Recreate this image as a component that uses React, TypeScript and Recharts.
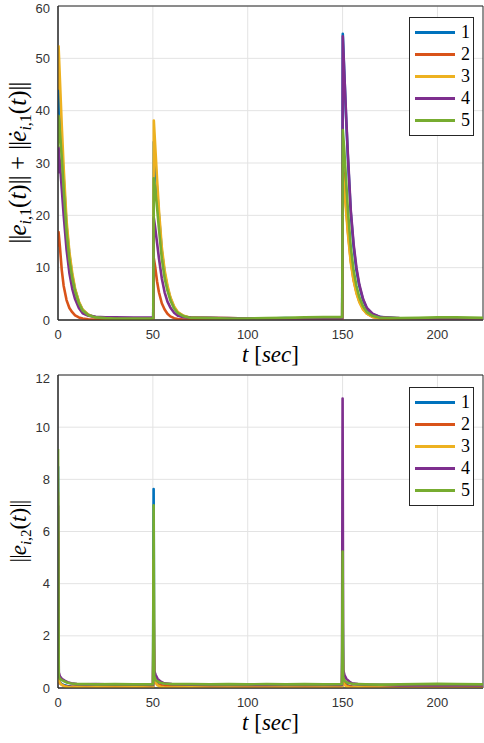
import React from 'react';
import { LineChart, Line, XAxis, YAxis, CartesianGrid, Legend, ReferenceArea } from 'recharts';

const seriesNames = ['1', '2', '3', '4', '5'];
const seriesColors = ['#0072BD', '#D95319', '#EDB120', '#7E2F8E', '#77AC30'];
const xTicks = [0, 50, 100, 150, 200];
const topYTicks = [0, 10, 20, 30, 40, 50, 60];
const bottomYTicks = [0, 2, 4, 6, 8, 10, 12];

// upper panel: ||e_i1|| + ||de_i1||
const topTime = [
  0, 0.3, 1, 2, 3, 4.5, 6, 7.5, 9, 11, 13, 16, 20, 25, 30, 40, 50.2,
  50.5, 51.2, 52.2, 53.2, 54.7, 56.2, 57.7, 59.2, 61.2, 63.2, 66.2, 70,
  80, 90, 100, 110, 120, 130, 140, 149.8,
  150.1, 150.8, 151.8, 152.8, 154.3, 155.8, 157.3, 158.8, 160.8, 162.8, 165.8, 170,
  180, 190, 200, 210, 224,
];
const top1 = [
  36, 44, 40, 33, 27, 18, 12.5, 8.5, 5.8, 3.4, 1.9, 1, 0.5, 0.35, 0.3, 0.3, 0.3,
  34, 30.5, 25, 20, 13.2, 9, 6.2, 4.2, 2.4, 1.4, 0.75, 0.4,
  0.35, 0.3, 0.3, 0.3, 0.35, 0.3, 0.3, 0.3,
  54.7, 48, 39, 31, 20.5, 14, 9.5, 6.5, 3.8, 2.2, 1.1, 0.55,
  0.3, 0.3, 0.3, 0.3, 0.3,
];
const top2 = [
  14, 16.8, 14, 9.5, 6.5, 3.8, 2.3, 1.5, 0.9, 0.5, 0.3, 0.15, 0.1, 0.1, 0.1, 0.1, 0.1,
  11.8, 10.2, 7.4, 5.3, 3.2, 2, 1.2, 0.7, 0.35, 0.2, 0.1, 0.08,
  0.1, 0.1, 0.15, 0.1, 0.1, 0.1, 0.1, 0.1,
  30, 27, 22, 17, 11.4, 7.7, 5.3, 3.6, 2.1, 1.2, 0.6, 0.3,
  0.1, 0.1, 0.1, 0.1, 0.1,
];
const top3 = [
  44, 52.3, 46, 37, 29, 19, 13, 9, 6, 3.5, 2, 1, 0.5, 0.35, 0.3, 0.3, 0.3,
  38.1, 33.5, 27, 21, 13.9, 9.5, 6.6, 4.4, 2.6, 1.5, 0.8, 0.45,
  0.4, 0.35, 0.3, 0.3, 0.3, 0.35, 0.35, 0.3,
  28, 25.5, 21, 16.5, 11, 7.5, 5.1, 3.4, 2, 1.2, 0.6, 0.35,
  0.3, 0.3, 0.3, 0.3, 0.3,
];
const top4 = [
  28, 33, 30, 25, 20, 13.5, 9, 6, 4, 2.3, 1.3, 0.8, 0.6, 0.5, 0.5, 0.45, 0.45,
  19.5, 17.7, 14.8, 11.8, 8, 5.3, 3.5, 2.4, 1.4, 0.8, 0.55, 0.45,
  0.4, 0.35, 0.3, 0.3, 0.3, 0.3, 0.3, 0.3,
  54.2, 48, 39.5, 31.5, 21, 14.5, 10, 6.8, 4, 2.3, 1.2, 0.55,
  0.35, 0.3, 0.3, 0.3, 0.3,
];
const top5 = [
  33, 39, 36, 31, 25, 17, 11.5, 8, 5.5, 3.2, 1.8, 0.9, 0.5, 0.35, 0.3, 0.3, 0.3,
  27.1, 25, 21.5, 17.4, 11.8, 8, 5.6, 3.8, 2.2, 1.3, 0.7, 0.4,
  0.35, 0.3, 0.3, 0.35, 0.4, 0.5, 0.55, 0.55,
  36.3, 33, 27, 21, 14, 9.5, 6.5, 4.4, 2.6, 1.5, 0.8, 0.4,
  0.35, 0.4, 0.5, 0.5, 0.4,
];

// lower panel: ||e_i2||
const bottomTime = [
  0, 0.4, 1, 2, 3.5, 5, 7, 10, 15, 20, 30, 40, 50.1,
  50.4, 50.7, 51.5, 52.5, 54, 56, 60, 70, 80, 90, 100, 110, 120, 130, 140, 149.7,
  150, 150.3, 151, 152, 153.5, 155, 158, 162, 170, 180, 190, 200, 210, 224,
];
const bottom1 = [
  8.5, 0.3, 0.22, 0.15, 0.1, 0.08, 0.06, 0.05, 0.05, 0.04, 0.05, 0.04, 0.05,
  7.63, 0.35, 0.25, 0.15, 0.1, 0.07, 0.05, 0.05, 0.04, 0.05, 0.05, 0.04, 0.05, 0.04, 0.05, 0.05,
  3, 0.3, 0.2, 0.12, 0.08, 0.06, 0.05, 0.05, 0.04, 0.05, 0.04, 0.05, 0.05, 0.05,
];
const bottom2 = [
  6, 0.25, 0.18, 0.12, 0.08, 0.06, 0.05, 0.06, 0.04, 0.05, 0.06, 0.05, 0.04,
  2, 0.3, 0.2, 0.14, 0.1, 0.08, 0.07, 0.06, 0.08, 0.06, 0.05, 0.07, 0.06, 0.05, 0.06, 0.05,
  2, 0.25, 0.18, 0.1, 0.07, 0.06, 0.05, 0.04, 0.05, 0.06, 0.05, 0.04, 0.05, 0.04,
];
const bottom3 = [
  7.5, 0.3, 0.2, 0.12, 0.06, 0.04, 0.02, 0.03, 0.02, 0.03, 0.02, 0.03, 0.02,
  4.9, 0.35, 0.2, 0.1, 0.05, 0.03, 0.02, 0.03, 0.02, 0.03, 0.02, 0.02, 0.03, 0.02, 0.03, 0.02,
  1.5, 0.2, 0.12, 0.06, 0.03, 0.02, 0.03, 0.02, 0.03, 0.02, 0.03, 0.02, 0.03, 0.02,
];
const bottom4 = [
  7, 0.6, 0.45, 0.35, 0.28, 0.22, 0.18, 0.15, 0.14, 0.15, 0.13, 0.14, 0.12,
  3, 0.65, 0.5, 0.35, 0.25, 0.18, 0.15, 0.13, 0.12, 0.13, 0.12, 0.12, 0.13, 0.12, 0.12, 0.12,
  11.1, 0.7, 0.5, 0.35, 0.25, 0.18, 0.15, 0.13, 0.12, 0.1, 0.1, 0.11, 0.1, 0.1,
];
const bottom5 = [
  9.16, 0.45, 0.35, 0.3, 0.25, 0.2, 0.17, 0.15, 0.15, 0.14, 0.15, 0.14, 0.14,
  7.0, 0.45, 0.3, 0.25, 0.2, 0.17, 0.15, 0.15, 0.14, 0.15, 0.14, 0.15, 0.14, 0.15, 0.14, 0.15,
  5.23, 0.4, 0.28, 0.22, 0.18, 0.16, 0.15, 0.14, 0.13, 0.14, 0.15, 0.16, 0.15, 0.14,
];

const topRows = topTime.map((t, i) => ({ t, s1: top1[i], s2: top2[i], s3: top3[i], s4: top4[i], s5: top5[i] }));
const bottomRows = bottomTime.map((t, i) => ({
  t, s1: bottom1[i], s2: bottom2[i], s3: bottom3[i], s4: bottom4[i], s5: bottom5[i],
}));

const serif = '"Liberation Serif", "DejaVu Serif", serif';
const tickStyle = { fill: '#333', fontSize: 13, fontFamily: '"Liberation Sans", Arial, sans-serif' };

const LegendBox = () => (
  <div style={{ border: '1px solid #262626', background: '#fff', width: 63, padding: '3px 0 4px 0', boxSizing: 'content-box' }}>
    {seriesNames.map((name, i) => (
      <div key={name} style={{ display: 'flex', alignItems: 'center', height: 22 }}>
        <div style={{ width: 40, height: 3, background: seriesColors[i], marginLeft: 5 }} />
        <span style={{ fontFamily: serif, fontSize: 18, marginLeft: 6, color: '#000', lineHeight: '22px' }}>{name}</span>
      </div>
    ))}
  </div>
);

const XLabel = (props: any) => {
  const vb = props.viewBox || {};
  const cx = vb.x + vb.width / 2;
  const y = vb.y + 42;
  return (
    <text x={cx} y={y} textAnchor="middle" fontFamily={serif} fontSize={23} fill="#000">
      <tspan fontStyle="italic">t</tspan>
      <tspan> [</tspan>
      <tspan fontStyle="italic">sec</tspan>
      <tspan>]</tspan>
    </text>
  );
};

// double bar drawn as two pipes, like LaTeX \|
const Bar2 = () => <tspan letterSpacing={-1}>||</tspan>;

const TopYLabel = (props: any) => {
  const vb = props.viewBox || {};
  const cx = 26;
  const cy = vb.y + vb.height / 2;
  return (
    <text transform={`translate(${cx},${cy}) rotate(-90)`} textAnchor="middle" fontFamily={serif} fontSize={25} fill="#000">
      <Bar2 />
      <tspan fontStyle="italic">e</tspan>
      <tspan fontSize={16} fontStyle="italic" dy={5}>i</tspan>
      <tspan fontSize={16}>,1</tspan>
      <tspan dy={-5}>(</tspan>
      <tspan fontStyle="italic">t</tspan>
      <tspan>)</tspan>
      <Bar2 />
      <tspan> + </tspan>
      <Bar2 />
      <tspan fontStyle="italic">ė</tspan>
      <tspan fontSize={16} fontStyle="italic" dy={5}>i</tspan>
      <tspan fontSize={16}>,1</tspan>
      <tspan dy={-5}>(</tspan>
      <tspan fontStyle="italic">t</tspan>
      <tspan>)</tspan>
      <Bar2 />
    </text>
  );
};

const BottomYLabel = (props: any) => {
  const vb = props.viewBox || {};
  const cx = 26;
  const cy = vb.y + vb.height / 2;
  return (
    <text transform={`translate(${cx},${cy}) rotate(-90)`} textAnchor="middle" fontFamily={serif} fontSize={23} fill="#000">
      <Bar2 />
      <tspan fontStyle="italic">e</tspan>
      <tspan fontSize={15} fontStyle="italic" dy={5}>i</tspan>
      <tspan fontSize={15}>,2</tspan>
      <tspan dy={-5}>(</tspan>
      <tspan fontStyle="italic">t</tspan>
      <tspan>)</tspan>
      <Bar2 />
    </text>
  );
};

type PanelProps = {
  rows: any[];
  height: number;
  top: number;
  xAxisHeight: number;
  yMax: number;
  yTicks: number[];
  yLabel: React.ReactElement;
  legendTop: number;
};

const Panel = ({ rows, height, top, xAxisHeight, yMax, yTicks, yLabel, legendTop }: PanelProps) => (
  <LineChart width={484} height={height} data={rows} margin={{ top, right: 1, bottom: 0, left: 0 }}>
    <CartesianGrid stroke="#e3e3e3" strokeWidth={1} horizontalValues={yTicks} verticalValues={xTicks} />
    <XAxis
      dataKey="t"
      type="number"
      domain={[0, 224]}
      ticks={xTicks}
      allowDataOverflow
      height={xAxisHeight}
      tickLine={false}
      tickSize={0}
      tickMargin={10}
      tick={tickStyle}
      axisLine={{ stroke: '#262626' }}
      label={<XLabel />}
    />
    <YAxis
      type="number"
      domain={[0, yMax]}
      ticks={yTicks}
      allowDataOverflow
      width={58}
      tickLine={false}
      tickSize={0}
      tickMargin={8}
      tick={tickStyle}
      axisLine={{ stroke: '#262626' }}
      label={yLabel}
    />
    <ReferenceArea x1={0} x2={224} y1={0} y2={yMax} fill="none" stroke="#262626" strokeWidth={1} ifOverflow="visible" />
    {seriesNames.map((name, i) => (
      <Line
        key={name}
        type="linear"
        dataKey={`s${i + 1}`}
        name={name}
        stroke={seriesColors[i]}
        strokeWidth={2.6}
        strokeLinejoin="round"
        dot={false}
        activeDot={false}
        isAnimationActive={false}
      />
    ))}
    <Legend
      layout="vertical"
      align="center"
      verticalAlign="middle"
      content={() => <LegendBox />}
      wrapperStyle={{ left: 409, top: legendTop, width: 'auto', height: 'auto' }}
    />
  </LineChart>
);

export default function App() {
  return (
    <div style={{ position: 'absolute', left: 0, top: 0, width: 484, height: 743, background: '#fff' }}>
      <div style={{ position: 'absolute', left: 0, top: 0 }}>
        <Panel rows={topRows} height={370} top={6} xAxisHeight={50} yMax={60} yTicks={topYTicks} yLabel={<TopYLabel />} legendTop={17} />
      </div>
      <div style={{ position: 'absolute', left: 0, top: 370 }}>
        <Panel rows={bottomRows} height={373} top={5} xAxisHeight={55} yMax={12} yTicks={bottomYTicks} yLabel={<BottomYLabel />} legendTop={17} />
      </div>
    </div>
  );
}
